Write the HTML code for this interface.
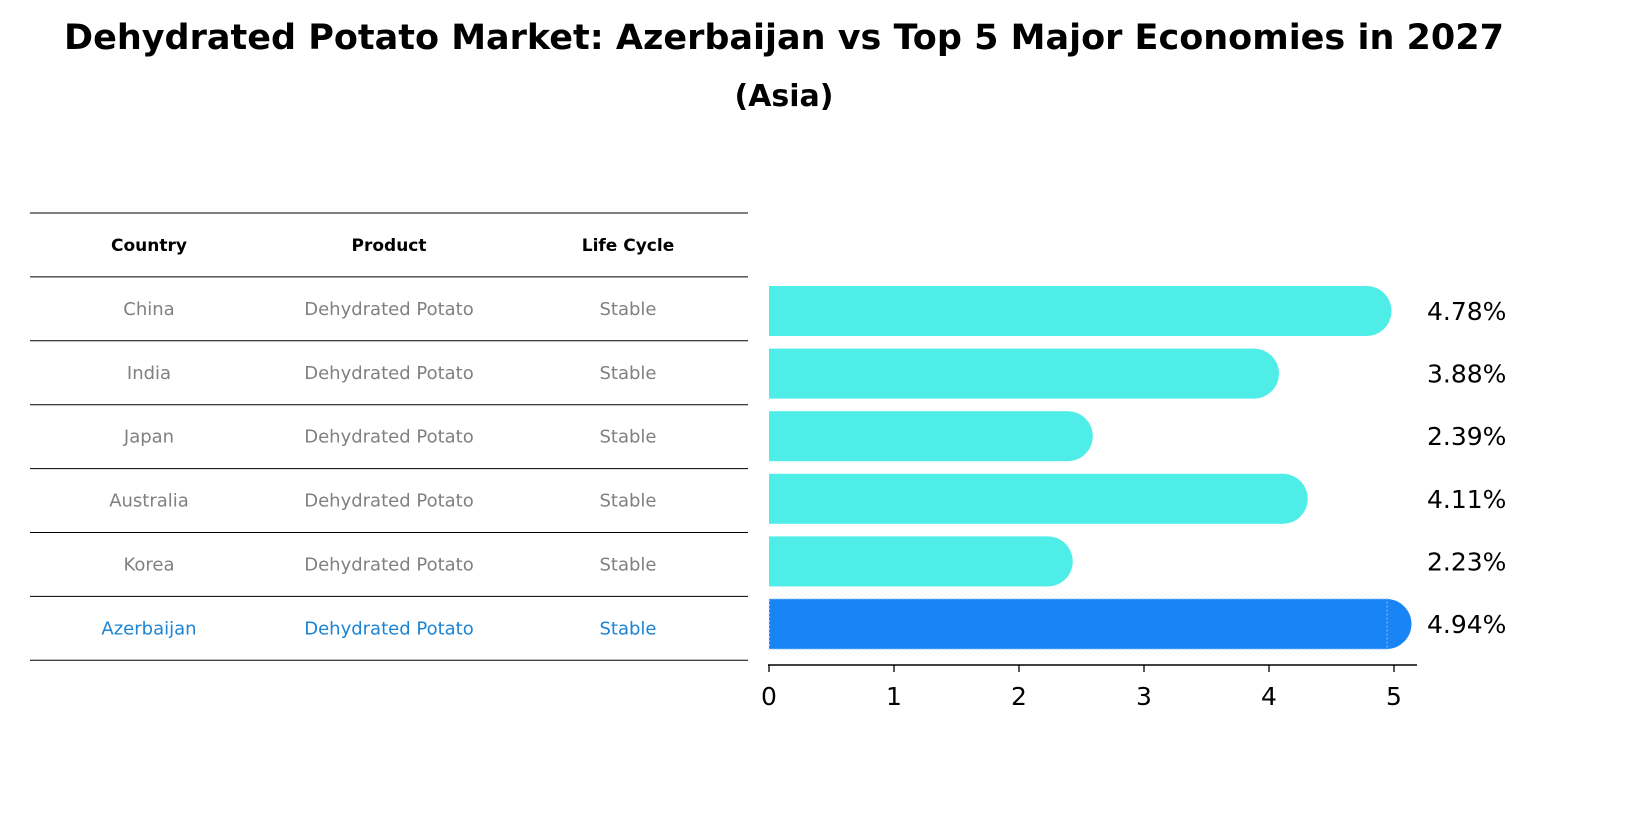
<!DOCTYPE html>
<html><head><meta charset="utf-8"><style>
body{margin:0;background:#fff;width:1637px;height:823px;overflow:hidden;font-family:"Liberation Sans","DejaVu Sans",sans-serif}
</style></head><body>
<svg id="c" width="1637" height="823" xmlns="http://www.w3.org/2000/svg" font-family="DejaVu Sans, Liberation Sans, sans-serif">
<text x="784" y="49" text-anchor="middle" font-size="35" font-weight="bold">Dehydrated Potato Market: Azerbaijan vs Top 5 Major Economies in 2027</text>
<text x="784" y="106" text-anchor="middle" font-size="30" font-weight="bold">(Asia)</text>
<g id="table"></g>
<g id="bars"></g>
</svg>
<script>
const countries=["China","India","Japan","Australia","Korea","Azerbaijan"];
const products=["Dehydrated Potato","Dehydrated Potato","Dehydrated Potato","Dehydrated Potato","Dehydrated Potato","Dehydrated Potato"];
const lifeCycles=["Stable","Stable","Stable","Stable","Stable","Stable"];
const values=[4.78,3.88,2.39,4.11,2.23,4.94];
const ticks=[0,1,2,3,4,5];
const NS="http://www.w3.org/2000/svg";
function mk(t,a,p){const e=document.createElementNS(NS,t);for(const k in a)e.setAttribute(k,a[k]);p.appendChild(e);return e;}
const x=v=>769+v*125;
const tb=document.getElementById('table');
const colX=[149,389,628];
for(let i=0;i<=7;i++){const l=mk('line',{x1:30,x2:748,y1:213+i*63.9,y2:213+i*63.9,stroke:'#000','stroke-width':1},tb);

}
["Country","Product","Life Cycle"].forEach((h,j)=>{const t=mk('text',{x:colX[j],y:251,'text-anchor':'middle','font-size':17,'font-weight':'bold'},tb);t.textContent=h;

});
countries.forEach((c,i)=>{const last=i===countries.length-1;const col=last?'#1a84d6':'#808080';
[c,products[i],lifeCycles[i]].forEach((s,j)=>{const t=mk('text',{x:colX[j],y:213+(i+1)*63.9+38,'text-anchor':'middle','font-size':18,fill:col},tb);t.textContent=s;

});});
const bg=document.getElementById('bars');
values.forEach((v,i)=>{const cy=311+i*62.6;const last=i===values.length-1;const col=last?'#1884F5':'#4EEDE8';
const r=mk('rect',{x:769,y:cy-25,width:x(v)-769,height:50,fill:col},bg);


const cap=mk('circle',{cx:x(v),cy:cy,r:25,fill:col},bg);


if(last){const b=mk('rect',{x:769.5,y:cy-25,width:x(v)-769,height:50,fill:'none',stroke:'#7fbaf8','stroke-width':1.2,'stroke-dasharray':'2,2'},bg);

}
const t=mk('text',{x:1427,y:cy+9,'font-size':25},bg);t.textContent=v.toFixed(2)+'%';

});
const ax=mk('line',{x1:768,x2:1417,y1:665,y2:665,stroke:'#000','stroke-width':1.5},bg);


ticks.forEach(tk=>{const l=mk('line',{x1:x(tk),x2:x(tk),y1:665,y2:672,stroke:'#000','stroke-width':1.3},bg);


const t=mk('text',{x:x(tk),y:705,'text-anchor':'middle','font-size':25},bg);t.textContent=tk;

});
</script>
</body></html>
